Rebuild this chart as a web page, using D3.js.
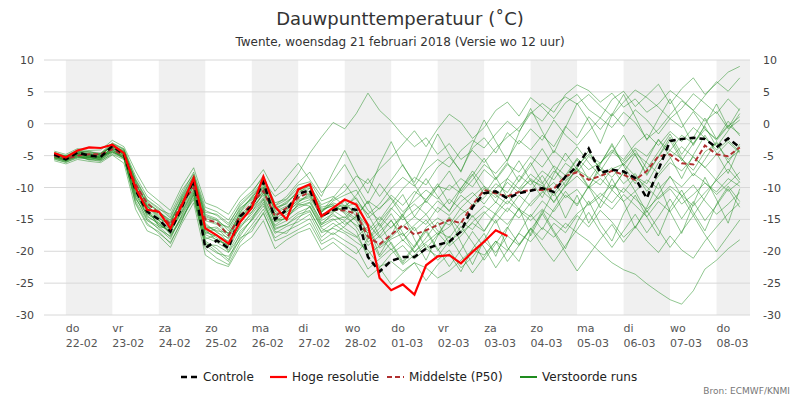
<!DOCTYPE html>
<html><head><meta charset="utf-8">
<script src="https://cdn.jsdelivr.net/npm/d3@7"></script>
<style>body{margin:0;background:#fff}svg{font-family:"DejaVu Sans",Verdana,sans-serif}</style>
</head><body><svg id="c" width="800" height="400"></svg>
<script>
// time step: 6 hours; index 0 = 21-02 18h (day offset -0.25 from 22-02 00h)
const dayNames = ["do","vr","za","zo","ma","di","wo","do","vr","za","zo","ma","di","wo","do"];
const dayDates = ["22-02","23-02","24-02","25-02","26-02","27-02","28-02","01-03","02-03","03-03","04-03","05-03","06-03","07-03","08-03"];
const yTicks = [10,5,0,-5,-10,-15,-20,-25,-30];
const controle = [-4.8,-5.6,-4.5,-5,-5.2,-3.5,-4.8,-10.4,-13.8,-15,-16.9,-13,-8.8,-19.5,-18.3,-19.5,-14.5,-13,-9.1,-15,-13.5,-11,-10.4,-14.5,-13.5,-13.2,-13.5,-20.9,-23.2,-21.5,-20.9,-20.9,-19.6,-19,-18.5,-16.9,-13.1,-10.9,-10.6,-11.7,-10.9,-10.5,-10.1,-10.7,-8.3,-6.7,-3.9,-7.7,-7.2,-7.5,-8.5,-11.7,-7.2,-2.7,-2.4,-2.2,-2.4,-3.7,-2.3,-3.7];
const hogeResolutie = [-4.6,-5.3,-4.2,-3.7,-3.8,-3.3,-4.6,-10.1,-13.5,-13.8,-16.4,-12.7,-8.5,-16.4,-17.5,-18.8,-15.4,-13.2,-8.3,-13,-15,-10.3,-9.5,-14.5,-13.2,-11.9,-12.7,-15.9,-24.2,-26.1,-25.2,-26.8,-22.2,-20.8,-20.6,-21.9,-20.1,-18.5,-16.7,-17.6];
const middelste = [-5,-5.5,-5,-4.8,-4.8,-4,-5,-9.5,-12.5,-14,-15.8,-12.5,-10,-15,-15.5,-17.5,-14.5,-12.5,-10.5,-14.5,-13.2,-11.6,-10.7,-14.5,-13.5,-13.6,-14.1,-17.7,-18.9,-17.4,-15.9,-17.4,-16.7,-15.9,-15.1,-15.6,-12.7,-10.4,-10.9,-11.4,-10.7,-10.4,-10.4,-10.2,-8.2,-7.6,-8.8,-8.2,-7.4,-8,-8.8,-7.4,-5.1,-4.8,-6.2,-6.4,-3.4,-4.8,-5.1,-3.7];
const runs = [
[-5.2,-5.8,-4.9,-5.3,-5.6,-4.1,-5.2,-11.2,-14.1,-15.5,-17.2,-12.1,-9.5,-16.8,-17.9,-19.2,-15.1,-12.4,-10.1,-14.8,-13.9,-12.3,-11.1,-14.9,-13.2,-12.8,-13.9,-16.2,-19.5,-18.1,-17.2,-19.4,-16.3,-14.8,-15.9,-13.2,-11.4,-9.8,-11.2,-12.6,-10.4,-8.9,-9.7,-11.3,-9.1,-7.2,-8.4,-9.6,-7.1,-6.3,-8.2,-9.4,-6.1,-4.2,-5.5,-7.3,-4.4,-3.1,-5.6,-4.2],
[-4.6,-5.1,-4.2,-4.5,-4.7,-3.2,-4.1,-8.9,-12.2,-13.8,-15.1,-11.8,-8.7,-14.2,-14.9,-16.8,-13.6,-11.7,-9.2,-13.1,-12.6,-10.4,-9.8,-12.7,-11.9,-10.6,-8.2,-9.4,-7.1,-5.3,-3.2,-1.1,-3.6,-0.8,1.5,0.2,-2.3,-0.6,2.1,3.4,1.2,4.1,2.6,0.8,3.3,4.6,2.2,0.9,3.8,5.1,2.7,4.4,6.2,3.1,5.5,7.2,4.6,6.3,8.1,9.0],
[-5.5,-6.1,-5.2,-5.6,-5.9,-4.6,-5.4,-12.1,-15.2,-16.4,-18.1,-14.2,-10.8,-18.4,-19.6,-21.3,-17.2,-15.1,-12.3,-16.4,-15.8,-14.2,-13.6,-17.1,-16.4,-17.2,-18.6,-19.8,-22.4,-21.6,-23.1,-21.8,-22.6,-24.2,-23.1,-21.4,-19.8,-20.6,-18.4,-19.9,-17.2,-18.5,-16.3,-17.8,-15.6,-17.1,-18.4,-20.2,-21.8,-22.9,-23.6,-25.1,-26.4,-27.6,-28.3,-26.2,-22.8,-21.4,-19.6,-18.2],
[-4.9,-5.3,-4.6,-5.1,-5.2,-3.9,-4.8,-10.2,-13.6,-15.9,-16.8,-13.3,-9.8,-17.2,-16.4,-18.1,-14.6,-13.1,-11.2,-15.3,-14.2,-12.9,-12.3,-15.2,-14.1,-15.8,-14.6,-12.1,-13.4,-11.2,-12.8,-10.6,-11.9,-9.8,-10.4,-8.6,-9.9,-7.2,-8.8,-6.4,-7.6,-5.1,-6.8,-4.2,-5.9,-3.6,-6.1,-8.2,-6.9,-9.4,-7.8,-10.6,-8.2,-6.1,-7.4,-5.2,-6.8,-8.9,-7.1,-9.2],
[-5.1,-5.6,-4.8,-4.9,-5.4,-3.6,-4.6,-9.1,-12.8,-14.6,-16.2,-12.8,-8.9,-15.6,-17.1,-17.9,-13.9,-12.1,-9.6,-13.8,-12.9,-11.6,-10.1,-13.6,-12.8,-13.9,-15.2,-18.6,-16.9,-15.2,-17.6,-15.9,-14.2,-16.8,-17.9,-15.4,-16.6,-14.1,-12.3,-13.8,-11.2,-12.9,-10.8,-9.2,-11.6,-10.3,-12.8,-11.4,-9.6,-10.8,-8.4,-9.9,-11.8,-10.2,-12.6,-11.1,-9.3,-10.7,-8.6,-9.8],
[-4.8,-5.2,-4.4,-4.7,-4.9,-3.4,-4.3,-8.6,-11.9,-13.2,-14.8,-11.2,-8.1,-13.9,-14.2,-15.6,-12.9,-11.1,-8.9,-11.4,-10.2,-7.8,-4.6,-2.1,0.2,-0.8,1.6,4.8,2.1,0.4,-1.8,-3.6,-2.2,-4.8,-3.1,-5.6,-4.2,-6.1,-3.8,-2.1,-0.6,1.8,0.4,2.9,4.2,3.1,4.6,2.8,1.2,3.4,5.3,4.1,2.6,0.8,2.4,4.7,3.2,1.6,3.9,2.1],
[-5.3,-5.9,-5.1,-5.4,-5.5,-4.2,-5.1,-11.6,-14.8,-16.6,-17.6,-14.9,-11.6,-19.1,-20.3,-20.8,-18.2,-15.9,-13.4,-17.2,-16.1,-15.4,-14.2,-17.8,-16.2,-15.3,-16.8,-21.1,-22.6,-20.4,-19.1,-21.2,-19.6,-20.8,-18.4,-17.1,-15.6,-16.9,-14.2,-15.8,-13.4,-14.6,-12.1,-13.8,-11.2,-12.6,-9.8,-11.9,-13.4,-11.1,-12.8,-14.6,-12.2,-13.8,-11.4,-9.6,-12.1,-14.2,-12.6,-10.8],
[-4.7,-5.4,-4.3,-4.8,-5.1,-3.3,-4.4,-9.8,-13.1,-14.2,-15.4,-12.2,-9.1,-15.2,-15.8,-17.2,-14.1,-12.8,-10.6,-14.1,-13.1,-11.1,-10.6,-13.9,-12.1,-11.2,-10.4,-13.6,-15.1,-12.6,-10.2,-8.4,-9.6,-6.8,-5.2,-7.4,-3.8,-2.2,-4.6,-1.4,-3.2,-0.8,-2.6,0.6,-1.8,-3.4,-1.2,0.9,-0.6,1.8,0.2,-2.4,-0.9,1.4,3.6,2.1,0.4,1.9,-0.8,0.6],
[-5.4,-5.7,-5.3,-5.2,-5.7,-4.4,-5.3,-10.8,-13.9,-15.2,-16.5,-13.8,-10.4,-17.8,-18.6,-19.8,-15.9,-14.2,-11.8,-15.9,-14.6,-13.2,-12.4,-15.8,-14.9,-16.4,-17.6,-20.4,-19.2,-17.8,-16.1,-14.6,-15.8,-13.1,-14.4,-12.2,-10.8,-12.6,-10.1,-8.6,-10.2,-7.9,-9.4,-6.6,-8.1,-5.4,-7.2,-6.1,-4.4,-5.9,-3.8,-5.1,-2.6,-4.2,-1.8,-3.1,-0.9,-2.4,-0.2,-1.6],
[-4.5,-5.0,-4.1,-4.4,-4.6,-3.0,-3.9,-8.2,-11.4,-12.8,-14.6,-10.9,-7.6,-13.1,-13.8,-15.1,-12.2,-10.6,-8.4,-12.4,-11.8,-9.6,-9.1,-12.1,-11.4,-12.9,-11.6,-14.8,-13.2,-11.6,-13.8,-12.1,-10.4,-11.8,-9.6,-10.9,-8.8,-6.4,-7.8,-5.6,-2.6,-4.1,-1.8,-3.6,-0.4,-2.2,1.1,-0.9,1.6,-0.4,2.2,0.6,-1.6,0.8,-0.6,1.9,-0.8,-2.6,-0.4,1.1],
[-5.6,-6.0,-5.4,-5.5,-5.8,-4.8,-5.6,-12.4,-15.6,-17.2,-18.6,-15.2,-11.2,-19.6,-21.1,-22.1,-18.6,-16.4,-14.1,-17.9,-16.8,-15.9,-14.9,-18.4,-17.1,-18.3,-19.4,-22.8,-21.2,-19.6,-22.1,-20.6,-18.9,-21.4,-19.8,-22.6,-20.9,-18.4,-20.2,-17.6,-19.1,-16.4,-18.2,-15.6,-17.1,-14.4,-16.2,-13.6,-15.4,-17.8,-16.1,-18.4,-20.2,-17.6,-19.8,-21.1,-18.4,-16.2,-14.1,-12.4],
[-5.0,-5.5,-4.7,-5.0,-5.3,-3.7,-4.9,-10.6,-12.9,-14.4,-16.0,-12.6,-9.3,-16.1,-16.9,-18.6,-14.8,-13.4,-10.9,-14.4,-13.6,-11.9,-11.4,-14.2,-13.6,-14.8,-12.9,-15.6,-17.9,-16.2,-14.6,-16.8,-15.1,-17.4,-16.2,-14.2,-12.9,-11.6,-9.4,-10.8,-8.1,-9.6,-7.4,-8.8,-6.2,-7.6,-5.1,-6.8,-8.4,-6.2,-4.6,-6.1,-7.8,-5.4,-3.6,-5.2,-6.9,-4.8,-2.9,-4.6],
[-4.9,-5.4,-4.5,-4.6,-5.0,-3.5,-4.7,-9.4,-12.6,-13.6,-15.6,-11.6,-8.4,-14.6,-15.2,-16.4,-13.2,-11.9,-9.9,-13.4,-12.2,-10.9,-9.6,-13.1,-12.6,-14.1,-16.2,-19.1,-17.6,-19.8,-18.2,-20.1,-18.6,-17.1,-19.2,-17.6,-15.4,-13.8,-15.6,-13.2,-14.8,-12.4,-10.6,-12.2,-9.8,-8.2,-10.1,-8.6,-10.4,-12.2,-10.6,-8.8,-10.2,-8.4,-9.9,-7.8,-9.2,-11.1,-9.4,-7.6],
[-5.1,-5.7,-4.6,-5.2,-5.1,-3.9,-4.7,-10.1,-13.4,-15.1,-16.6,-13.1,-9.6,-16.4,-16.2,-17.6,-14.4,-12.9,-10.4,-14.6,-13.4,-12.1,-11.6,-14.6,-13.8,-13.1,-12.4,-14.2,-12.6,-10.1,-8.4,-9.8,-7.2,-5.6,-6.8,-4.2,-2.6,-3.8,-1.6,0.4,-1.2,1.6,3.2,1.8,4.6,6.1,5.2,3.4,4.8,2.6,3.9,1.8,3.1,5.2,3.8,2.1,4.4,6.6,5.1,7.2],
[-5.3,-5.6,-5.0,-5.1,-5.4,-4.0,-5.0,-11.0,-14.4,-15.8,-17.0,-13.6,-10.2,-17.4,-18.2,-19.1,-16.1,-14.6,-12.6,-16.1,-15.2,-13.9,-13.1,-16.2,-15.1,-14.6,-15.9,-17.1,-15.4,-13.2,-15.1,-13.6,-12.1,-13.9,-11.8,-13.4,-14.6,-12.9,-14.2,-12.1,-13.6,-15.2,-13.4,-14.9,-16.4,-14.1,-12.6,-10.9,-12.4,-10.1,-11.8,-13.4,-11.6,-9.8,-11.2,-12.9,-10.8,-8.9,-10.6,-9.1],
[-4.8,-5.3,-4.4,-4.9,-4.8,-3.4,-4.5,-9.6,-12.4,-13.9,-15.2,-11.9,-8.8,-14.8,-15.6,-16.2,-13.4,-11.6,-9.4,-13.6,-12.4,-10.6,-10.1,-13.4,-12.9,-13.6,-14.9,-16.8,-14.6,-16.4,-14.1,-12.6,-14.2,-12.1,-13.6,-11.2,-12.8,-10.1,-11.6,-9.2,-10.8,-8.6,-10.1,-7.4,-8.9,-6.6,-4.8,-6.2,-4.1,-5.6,-3.2,-1.6,-3.4,-1.2,-2.8,-0.6,-2.2,-4.1,-2.6,-4.4],
[-5.8,-6.3,-5.6,-5.9,-6.1,-4.9,-6.2,-13.4,-16.8,-17.6,-19.4,-15.6,-12.4,-20.6,-21.8,-22.4,-19.2,-17.8,-15.2,-19.6,-18.2,-17.1,-16.4,-19.8,-18.6,-20.2,-21.4,-24.1,-22.6,-25.2,-23.4,-21.8,-24.6,-22.1,-20.4,-23.2,-19.6,-17.2,-20.8,-16.4,-13.2,-17.6,-14.1,-10.6,-14.8,-11.2,-15.6,-12.4,-8.6,-12.2,-16.4,-13.1,-9.2,-13.8,-17.2,-12.6,-8.4,-11.9,-15.6,-10.2],
[-4.3,-4.8,-3.9,-4.2,-4.1,-2.6,-3.6,-7.4,-10.6,-12.1,-13.6,-9.8,-6.9,-12.4,-13.1,-14.2,-11.4,-9.6,-7.2,-10.6,-8.4,-6.2,-8.8,-11.4,-7.6,-4.2,-7.8,-10.9,-6.4,-2.8,-6.6,-9.2,-5.4,-1.6,-4.8,-7.6,-3.2,0.6,-2.8,-5.9,-1.4,2.4,-1.2,-4.6,-0.6,3.2,0.4,-3.1,1.4,4.6,1.1,-2.6,0.8,3.9,0.2,-3.4,-0.2,3.1,-0.6,2.4],
[-5.2,-5.1,-5.0,-5.6,-5.2,-4.3,-5.5,-11.4,-15.1,-16.1,-17.8,-14.4,-11.1,-18.1,-17.4,-20.1,-16.8,-15.2,-12.9,-16.6,-15.8,-14.6,-13.8,-16.9,-15.6,-16.9,-17.8,-16.1,-20.6,-17.4,-14.2,-18.1,-21.4,-17.6,-14.8,-18.6,-22.1,-18.2,-15.1,-19.4,-21.6,-17.2,-13.6,-16.8,-19.6,-15.4,-12.1,-15.8,-18.4,-14.1,-11.2,-14.6,-17.6,-13.2,-10.4,-13.9,-16.8,-12.6,-9.8,-12.2],
[-4.6,-5.2,-4.4,-4.3,-4.9,-3.1,-4.0,-8.8,-12.0,-13.4,-14.2,-10.4,-7.9,-13.6,-14.4,-15.9,-12.6,-10.9,-8.1,-12.8,-11.4,-9.2,-7.6,-10.8,-8.9,-6.4,-9.6,-12.6,-9.4,-11.8,-14.6,-11.2,-8.6,-11.4,-13.8,-10.2,-7.4,-9.8,-12.4,-8.6,-5.8,-8.9,-11.6,-7.9,-4.6,-7.2,-10.1,-6.4,-3.1,-6.6,-9.4,-5.8,-2.4,-5.2,-8.6,-4.9,-1.8,-4.6,-7.8,-3.6],
[-5.0,-5.8,-4.7,-5.2,-5.5,-3.8,-4.9,-9.9,-13.2,-16.2,-16.4,-12.4,-9.9,-16.6,-18.4,-18.9,-15.6,-12.6,-9.9,-15.4,-14.8,-12.6,-11.9,-15.6,-14.4,-15.2,-13.4,-17.4,-20.9,-18.6,-21.6,-19.1,-16.6,-19.6,-22.4,-19.8,-16.9,-19.4,-22.6,-19.9,-17.1,-14.2,-16.6,-13.4,-10.6,-12.9,-9.8,-7.1,-10.2,-7.6,-4.8,-8.1,-5.2,-2.6,-5.8,-3.1,-0.4,-3.6,-1.1,1.6],
[-5.3,-5.5,-4.9,-4.8,-5.3,-4.1,-5.4,-11.8,-14.2,-15.1,-17.4,-14.6,-11.9,-18.9,-19.1,-20.2,-17.6,-14.9,-11.9,-16.9,-17.2,-14.9,-12.9,-16.4,-17.4,-16.1,-14.4,-12.2,-16.1,-13.4,-11.1,-14.6,-11.9,-9.4,-12.6,-10.1,-7.9,-11.1,-8.4,-11.6,-8.9,-6.1,-9.2,-12.4,-9.6,-6.9,-9.9,-13.2,-10.4,-7.6,-10.6,-13.9,-11.1,-8.2,-11.4,-14.4,-11.6,-8.6,-5.9,-8.8],
[-4.7,-5.6,-4.6,-5.0,-4.7,-3.6,-4.2,-9.2,-12.9,-14.9,-15.8,-11.4,-8.2,-14.4,-15.1,-17.4,-13.9,-11.4,-9.1,-12.9,-11.9,-10.1,-11.2,-13.8,-11.6,-9.4,-11.9,-14.2,-17.6,-15.1,-18.4,-16.2,-19.6,-17.4,-14.6,-16.9,-14.4,-16.8,-13.9,-11.2,-13.4,-10.6,-8.1,-10.9,-8.4,-5.6,-8.8,-6.2,-3.4,-6.6,-4.1,-7.1,-4.4,-1.6,-4.8,-2.2,0.9,-2.4,0.4,-1.9],
[-5.1,-5.4,-5.2,-5.3,-5.0,-4.5,-5.0,-10.4,-14.6,-15.6,-16.9,-13.9,-10.6,-17.1,-17.6,-18.4,-16.4,-13.8,-11.6,-15.1,-14.9,-12.6,-12.9,-15.9,-13.9,-12.1,-14.6,-18.1,-16.4,-14.1,-17.1,-20.2,-17.9,-15.4,-18.9,-16.1,-18.6,-21.4,-18.8,-16.2,-18.9,-16.4,-19.2,-21.6,-19.1,-16.6,-13.9,-16.9,-19.4,-16.8,-14.2,-17.1,-14.6,-11.8,-14.9,-12.2,-15.2,-12.8,-10.2,-13.1],
[-4.9,-5.0,-4.8,-5.4,-4.6,-3.6,-4.6,-10.0,-13.0,-14.8,-15.9,-12.9,-9.2,-15.9,-16.8,-17.1,-14.9,-13.9,-10.8,-14.2,-13.8,-12.4,-10.8,-13.9,-12.4,-13.1,-11.2,-8.6,-11.4,-8.9,-6.4,-9.6,-12.4,-9.9,-7.4,-10.6,-8.1,-5.4,-8.6,-6.1,-9.1,-6.6,-3.9,-6.9,-9.8,-6.9,-4.2,-7.4,-4.6,-1.8,-4.9,-7.9,-5.1,-2.1,-5.4,-8.2,-5.6,-2.8,-6.1,-3.2],
[-5.4,-5.9,-5.0,-5.7,-5.6,-4.4,-5.3,-12.6,-15.9,-16.9,-18.8,-15.1,-10.9,-18.6,-20.1,-21.6,-17.9,-16.9,-13.9,-18.4,-17.6,-16.6,-15.6,-18.9,-17.9,-19.1,-20.4,-18.1,-15.6,-18.9,-21.9,-19.4,-16.9,-19.9,-17.6,-20.6,-23.4,-20.9,-18.4,-21.6,-19.1,-16.6,-14.1,-17.1,-20.2,-23.1,-20.6,-18.1,-15.8,-18.6,-16.2,-13.6,-16.6,-19.4,-16.9,-14.4,-17.4,-20.1,-17.6,-15.1]
];

const svg = d3.select("#c");
const L=44, R=750, T=60, B=315;
const x = d3.scaleLinear().domain([-0.47,14.72]).range([L,R]);
const y = d3.scaleLinear().domain([-30,10]).range([B,T]);
const tOf = i => -0.25 + 0.25*i;

dayNames.forEach((d,i)=>{ if(i%2===0){
  const x0=x(i), x1=Math.min(x(i+1),R);
  svg.append("rect").attr("x",x0).attr("y",T).attr("width",x1-x0).attr("height",B-T).attr("fill","#f0f0f0");
}});
yTicks.forEach(v=>{
  svg.append("line").attr("x1",L).attr("x2",R).attr("y1",y(v)).attr("y2",y(v)).attr("stroke","#d8d8d8").attr("stroke-width",1);
  svg.append("text").attr("x",34).attr("y",y(v)+4).attr("text-anchor","end").attr("font-size",11).attr("fill","#444").text(v);
  svg.append("text").attr("x",763).attr("y",y(v)+4).attr("text-anchor","start").attr("font-size",11).attr("fill","#444").text(v);
});
dayNames.forEach((d,i)=>{
  svg.append("text").attr("x",x(i)).attr("y",332).attr("font-size",11).attr("fill","#555").text(d);
  svg.append("text").attr("x",x(i)).attr("y",347).attr("font-size",11).attr("fill","#555").text(dayDates[i]);
});

const line = d3.line().x((d,i)=>x(tOf(i))).y(d=>y(d));
const g = svg.append("g");
runs.forEach(r=>g.append("path").attr("d",line(r)).attr("fill","none").attr("stroke","#1e8c1e").attr("stroke-opacity",0.55).attr("stroke-width",0.9));
g.append("path").attr("d",line(middelste)).attr("fill","none").attr("stroke","#b03030").attr("stroke-width",2).attr("stroke-dasharray","5,3");
g.append("path").attr("d",line(controle)).attr("fill","none").attr("stroke","#000").attr("stroke-width",2.5).attr("stroke-dasharray","6,4");
g.append("path").attr("d",line(hogeResolutie)).attr("fill","none").attr("stroke","#ff0000").attr("stroke-width",2.2);

svg.append("text").attr("x",400).attr("y",25).attr("text-anchor","middle").attr("font-size",18).attr("fill","#333").text("Dauwpunttemperatuur (˚C)");
svg.append("text").attr("x",400).attr("y",46).attr("text-anchor","middle").attr("font-size",12).attr("fill","#333").text("Twente, woensdag 21 februari 2018 (Versie wo 12 uur)");

const leg=[{t:"Controle",x:181,c:"#000",d:"6,4",w:2.5},{t:"Hoge resolutie",x:270,c:"#ff0000",d:null,w:2.2},{t:"Middelste (P50)",x:387,c:"#b03030",d:"5,3",w:2},{t:"Verstoorde runs",x:520,c:"#1e8c1e",d:null,w:2}];
leg.forEach(l=>{
  const ln=svg.append("line").attr("x1",l.x).attr("x2",l.x+17).attr("y1",377).attr("y2",377).attr("stroke",l.c).attr("stroke-width",l.w);
  if(l.d) ln.attr("stroke-dasharray",l.d);
  svg.append("text").attr("x",l.x+22).attr("y",381).attr("font-size",12).attr("fill","#222").text(l.t);
});
svg.append("text").attr("x",790).attr("y",394).attr("text-anchor","end").attr("font-size",9).attr("fill","#777").text("Bron: ECMWF/KNMI");
</script></body></html>
